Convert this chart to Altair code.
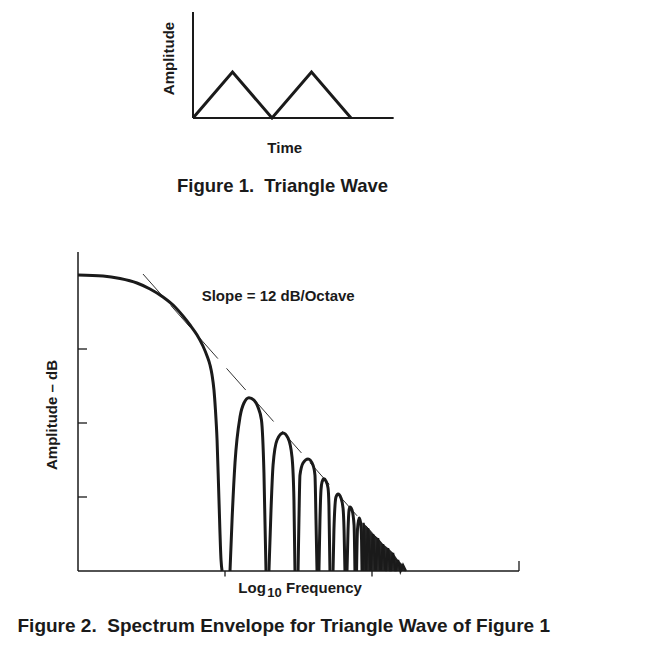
import altair as alt
import pandas as pd

# ---------------- Figure 1: triangle wave ----------------
tri_time = [0, 1, 2, 3, 4]
tri_amp = [0, 1, 0, 1, 0]

# ---------------- Figure 2: spectrum envelope ----------------
# x = log10 frequency (decades, 0 = first null), y = amplitude (dB)
main_x = [-1.0, -0.830, -0.714, -0.599, -0.510, -0.422, -0.340, -0.286, -0.238, -0.190,
          -0.150, -0.122, -0.102, -0.088, -0.075, -0.065, -0.054, -0.041, -0.027, -0.020]
main_y = [0.0, -0.27, -0.95, -2.16, -3.78, -5.95, -8.65, -11.08, -13.51, -16.22,
          -19.19, -21.89, -24.32, -27.03, -31.08, -36.49, -44.59, -60.81, -77.03, -80.0]

l1_x = [0.034, 0.048, 0.068, 0.102, 0.129, 0.163, 0.197, 0.224, 0.248, 0.265, 0.279]
l1_y = [-80.0, -66.2, -50.8, -38.4, -34.6, -33.2, -33.8, -35.7, -39.2, -53.5, -80.0]

l2_x = [0.299, 0.313, 0.327, 0.354, 0.395, 0.429, 0.456, 0.469, 0.476]
l2_y = [-80.0, -63.5, -51.4, -44.6, -42.7, -44.1, -49.2, -60.8, -80.0]

l3_x = [0.497, 0.503, 0.510, 0.531, 0.565, 0.599, 0.612, 0.619, 0.626]
l3_y = [-80.0, -66.2, -54.1, -50.8, -49.7, -51.4, -54.1, -66.2, -80.0]

l4_x = [0.639, 0.646, 0.653, 0.660, 0.673, 0.687, 0.701, 0.707, 0.714]
l4_y = [-80.0, -66.2, -58.1, -56.0, -55.1, -55.7, -57.6, -62.2, -80.0]

l5_x = [0.735, 0.741, 0.755, 0.769, 0.789, 0.803, 0.810, 0.816]
l5_y = [-80.0, -68.9, -60.0, -59.2, -60.3, -63.0, -68.9, -80.0]

l6_x = [0.830, 0.837, 0.844, 0.850, 0.864, 0.878, 0.884]
l6_y = [-80.0, -68.9, -63.5, -62.7, -63.5, -67.6, -80.0]

l7_x = [0.895, 0.901, 0.912, 0.922, 0.929, 0.932]
l7_y = [-80.0, -68.9, -65.7, -66.8, -71.6, -80.0]

comb_x = [0.935, 0.942, 0.959, 0.973, 0.990, 1.007, 1.024, 1.041, 1.058, 1.075,
          1.092, 1.109, 1.126, 1.143, 1.160, 1.177, 1.194, 1.211, 1.231]
comb_y = [-80.0, -67.0, -80.0, -68.4, -80.0, -70.0, -80.0, -71.1, -80.0, -72.7,
          -80.0, -73.8, -80.0, -75.1, -80.0, -77.0, -80.0, -78.4, -80.0]

# 12 dB/octave asymptote
slope_x = [-0.558, 1.231]
slope_y = [0.27, -80.0]

# axis ticks
db_ticks = [-20, -40, -60]
freq_ticks = [0, 1]
DB_FLOOR = -80.0

# ---------------- layout ----------------
W, H = 640, 628
ORG = 8
INK = "#1a1a1a"
FONT = "Liberation Sans"


def xdom(ref_px, ppu):
    return [(ORG - ref_px) / ppu, (ORG + W - ref_px) / ppu]


def ydom(ref_px, ppu):
    return [(ref_px - (ORG + H)) / ppu, (ref_px - ORG) / ppu]


top_xd = xdom(193, 39.5)
top_yd = ydom(118, 46)
bot_xd = xdom(225, 147)
bot_yd = ydom(275, 3.7)


def TX(f):
    return alt.X(f, type="quantitative", scale=alt.Scale(domain=top_xd, nice=False, zero=False), axis=None)


def TY(f):
    return alt.Y(f, type="quantitative", scale=alt.Scale(domain=top_yd, nice=False, zero=False), axis=None)


def BX(f):
    return alt.X(f, type="quantitative", scale=alt.Scale(domain=bot_xd, nice=False, zero=False), axis=None)


def BY(f):
    return alt.Y(f, type="quantitative", scale=alt.Scale(domain=bot_yd, nice=False, zero=False), axis=None)


# ---------- top chart ----------
tri_df = pd.DataFrame({"t": tri_time, "a": tri_amp})
top_axis_df = pd.DataFrame({"x": [0, 0], "y": [0, 0], "x2": [0, 5.08], "y2": [2.304, 0]})

top_axes = alt.Chart(top_axis_df).mark_rule(color=INK, strokeWidth=2).encode(
    x=TX("x"), y=TY("y"), x2="x2", y2="y2")
tri = alt.Chart(tri_df).mark_line(color=INK, strokeWidth=3, strokeJoin="miter").encode(
    x=TX("t"), y=TY("a"), order="t:Q")


def top_text(label, x, y, size, **kw):
    df = pd.DataFrame({"x": [x], "y": [y], "label": [label]})
    return alt.Chart(df).mark_text(font=FONT, fontWeight="bold", fontSize=size, color=INK,
                                   baseline="alphabetic", **kw).encode(
        x=TX("x"), y=TY("y"), text="label:N")


def bot_text(label, x, y, size, **kw):
    df = pd.DataFrame({"x": [x], "y": [y], "label": [label]})
    return alt.Chart(df).mark_text(font=FONT, fontWeight="bold", fontSize=size, color=INK,
                                   baseline="alphabetic", **kw).encode(
        x=BX("x"), y=BY("y"), text="label:N")


top = alt.layer(
    top_axes,
    tri,
    top_text("Amplitude", -0.481, 1.293, 15, angle=270, align="center"),
    top_text("Time", 2.322, -0.754, 15, align="center"),
    top_text("Figure 1.\u00a0 Triangle Wave", 2.266, -1.60, 18.5, align="center"),
)

# ---------- bottom chart ----------
rows = []
for name, xs, ys in [("main", main_x, main_y), ("l1", l1_x, l1_y), ("l2", l2_x, l2_y),
                     ("l3", l3_x, l3_y), ("l4", l4_x, l4_y), ("l5", l5_x, l5_y),
                     ("l6", l6_x, l6_y), ("l7", l7_x, l7_y)]:
    for i, (xv, yv) in enumerate(zip(xs, ys)):
        rows.append({"x": xv, "y": yv, "lobe": name, "i": i})
lobe_df = pd.DataFrame(rows)
comb_df = pd.DataFrame({"x": comb_x, "y": comb_y, "i": list(range(len(comb_x)))})
# filled body of the dense comb: its tooth tips plus the two outer feet
keep = [(yv > DB_FLOOR) or i in (0, len(comb_x) - 1) for i, yv in enumerate(comb_y)]
comb_fill_df = comb_df[keep].reset_index(drop=True).copy()
comb_fill_df["base"] = DB_FLOOR
slope_df = pd.DataFrame({"x": slope_x, "y": slope_y})

axis_df = pd.DataFrame({"x": [-1.0, -1.0], "y": [DB_FLOOR, DB_FLOOR], "x2": [-1.0, 2.0], "y2": [6.2, DB_FLOOR]})
tick_rows = [{"x": -1.0, "x2": -0.9388, "y": v, "y2": v} for v in db_ticks]
tick_rows += [{"x": v, "x2": v, "y": DB_FLOOR, "y2": DB_FLOOR - 1.5} for v in freq_ticks]
tick_rows += [{"x": 2.0, "x2": 2.0, "y": DB_FLOOR, "y2": DB_FLOOR + 2.7}]
tick_df = pd.DataFrame(tick_rows)

dash = alt.Chart(slope_df).mark_line(color="#333333", strokeWidth=1, strokeDash=[29, 13]).encode(
    x=BX("x"), y=BY("y"))
axes = alt.Chart(axis_df).mark_rule(color=INK, strokeWidth=1.5).encode(
    x=BX("x"), y=BY("y"), x2="x2", y2="y2")
ticks = alt.Chart(tick_df).mark_rule(color=INK, strokeWidth=1.3).encode(
    x=BX("x"), y=BY("y"), x2="x2", y2="y2")
lobes = alt.Chart(lobe_df).mark_line(color=INK, strokeWidth=3, interpolate="monotone", strokeCap="butt").encode(
    x=BX("x"), y=BY("y"), detail="lobe:N", order="i:Q")
comb_fill = alt.Chart(comb_fill_df).mark_area(fill=INK, fillOpacity=0.95, stroke=None).encode(
    x=BX("x"), y=BY("y"), y2="base:Q")
comb = alt.Chart(comb_df).mark_line(color=INK, strokeWidth=2.4, strokeCap="butt").encode(
    x=BX("x"), y=BY("y"), order="i:Q")

bottom = alt.layer(
    dash, axes, ticks, lobes, comb_fill, comb,
    bot_text("Slope = 12 dB/Octave", -0.1585, -7.03, 15, align="left"),
    bot_text("Amplitude \u2013 dB", -1.140, -37.84, 15, angle=270, align="center"),
    bot_text("Log", 0.0905, -86.03, 15, align="left"),
    bot_text("10", 0.2878, -86.95, 13, align="left"),
    bot_text("Frequency", 0.415, -86.03, 15, align="left"),
    bot_text("Figure 2.\u00a0 Spectrum Envelope for Triangle Wave of Figure 1", -1.4116, -96.49, 19, align="left"),
)

chart = (
    alt.layer(top, bottom)
    .resolve_scale(x="independent", y="independent")
    .properties(width=W, height=H, padding=0)
    .configure_view(stroke=None)
)

chart.save("out.html", embed_options={"renderer": "svg", "actions": False})
